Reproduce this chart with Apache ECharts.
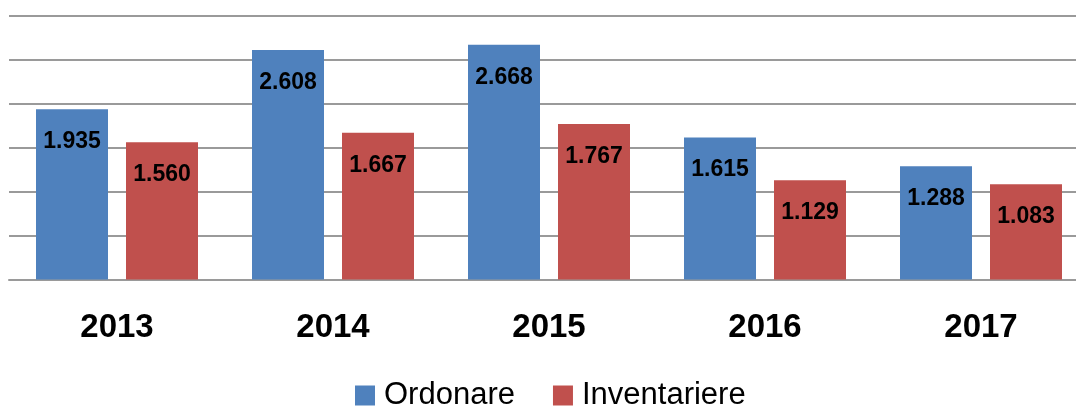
<!DOCTYPE html>
<html lang="ro">
<head>
    <meta charset="UTF-8">
    <title>Ordonare / Inventariere</title>
    <script src="https://cdn.jsdelivr.net/npm/echarts@6/dist/echarts.min.js"></script>
    <style>
        html, body { margin: 0; padding: 0; background: #fff; }
    </style>
</head>
<body>
<div id="main" style="width: 1076px;height:406px;"></div>
<script type="text/javascript">
    // date
    var ani = ['2013', '2014', '2015', '2016', '2017'];
    var ordonare = [1935, 2608, 2668, 1615, 1288];
    var inventariere = [1560, 1667, 1767, 1129, 1083];
    var serii = ['Ordonare', 'Inventariere'];

    function fmt(v) {
        // 1935 -> "1.935"
        var s = String(v);
        return s.slice(0, s.length - 3) + '.' + s.slice(-3);
    }

    var labelStyle = {
        show: true,
        position: 'insideTop',
        distance: 21,
        color: '#000',
        fontFamily: 'Liberation Sans',
        fontWeight: 'bold',
        fontSize: 23,
        formatter: function (p) { return fmt(p.value); }
    };

    var myChart = echarts.init(document.getElementById('main'));
    myChart.setOption({
        animation: false,
        grid: { left: 9, width: 1080, top: 15.5, height: 264, outerBoundsMode: 'none' },
        legend: {
            data: serii,
            left: 355,
            top: 380,
            padding: 0,
            icon: 'rect',
            itemWidth: 20,
            itemHeight: 20,
            itemGap: 38,
            textStyle: {
                fontFamily: 'Liberation Sans',
                fontSize: 31,
                color: '#000',
                padding: [0, 0, 0, 4]
            }
        },
        xAxis: {
            type: 'category',
            data: ani,
            axisTick: { show: false },
            axisLine: { lineStyle: { color: '#9a9a9a', width: 2 } },
            axisLabel: {
                margin: 32,
                color: '#000',
                fontFamily: 'Liberation Sans',
                fontWeight: 'bold',
                fontSize: 33
            }
        },
        yAxis: {
            type: 'value',
            min: 0,
            max: 3000,
            interval: 500,
            axisLabel: { show: false },
            axisLine: { show: false },
            axisTick: { show: false },
            splitLine: { lineStyle: { color: '#9a9a9a', width: 2 } }
        },
        series: [{
            name: serii[0],
            type: 'bar',
            data: ordonare,
            barWidth: 72,
            barGap: '25%',
            itemStyle: { color: '#4F81BD' },
            label: labelStyle
        }, {
            name: serii[1],
            type: 'bar',
            data: inventariere,
            barWidth: 72,
            barGap: '25%',
            itemStyle: { color: '#C0504D' },
            label: labelStyle
        }]
    });
</script>
</body>
</html>
